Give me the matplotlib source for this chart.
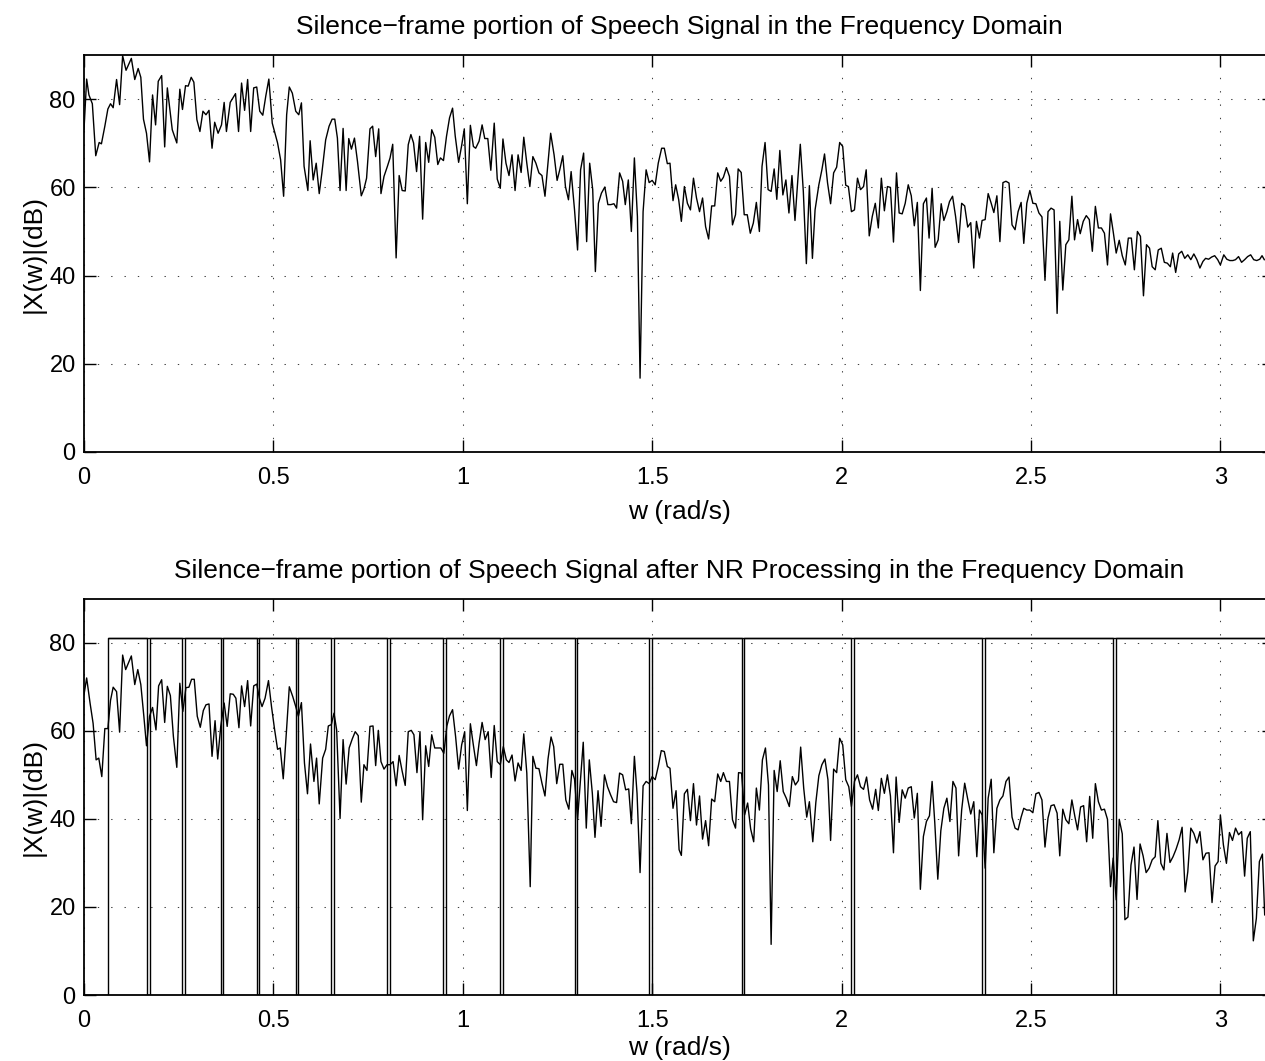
import numpy as np
import matplotlib
matplotlib.use("Agg")
import matplotlib.pyplot as plt

# ---------------- data ----------------
top_x = [0.000, 0.007, 0.013, 0.022, 0.031, 0.040, 0.046, 0.055, 0.063, 0.070, 0.077, 0.086, 0.094, 0.102, 0.111, 0.125, 0.134, 0.143, 0.150, 0.157,
         0.165, 0.173, 0.181, 0.189, 0.196, 0.205, 0.213, 0.220, 0.233, 0.245, 0.253, 0.260, 0.268, 0.275, 0.283, 0.290, 0.298, 0.306, 0.314, 0.322,
         0.330, 0.338, 0.345, 0.354, 0.363, 0.370, 0.376, 0.386, 0.400, 0.408, 0.416, 0.424, 0.432, 0.440, 0.448, 0.456, 0.464, 0.472, 0.480, 0.488,
         0.497, 0.511, 0.519, 0.527, 0.535, 0.542, 0.550, 0.559, 0.567, 0.574, 0.581, 0.591, 0.597, 0.605, 0.613, 0.621, 0.628, 0.638, 0.647, 0.655,
         0.662, 0.669, 0.676, 0.684, 0.692, 0.699, 0.706, 0.714, 0.722, 0.732, 0.739, 0.746, 0.755, 0.762, 0.770, 0.778,
         0.784, 0.792, 0.801, 0.808, 0.815, 0.824, 0.832, 0.840, 0.848, 0.856, 0.863, 0.870, 0.878, 0.886, 0.894, 0.902, 0.910, 0.918, 0.926, 0.934,
         0.941, 0.949, 0.957, 0.965, 0.973, 0.980, 0.989, 0.997, 1.004, 1.012, 1.020, 1.028, 1.034, 1.043, 1.051, 1.058, 1.066, 1.074, 1.083, 1.091,
         1.099, 1.106, 1.114, 1.122, 1.130, 1.138, 1.146, 1.154, 1.161, 1.169, 1.177, 1.185, 1.193, 1.201, 1.209, 1.217, 1.225, 1.232, 1.241, 1.249,
         1.256, 1.264, 1.271, 1.279, 1.286, 1.295, 1.303, 1.311, 1.319, 1.327, 1.335, 1.343, 1.350, 1.358, 1.366, 1.375, 1.383, 1.391, 1.399, 1.406,
         1.414, 1.422, 1.429, 1.437, 1.445, 1.453, 1.461, 1.468, 1.476, 1.484, 1.492, 1.500, 1.508, 1.516, 1.525, 1.532, 1.540, 1.547, 1.555, 1.562, 1.570,
         1.577, 1.585, 1.593, 1.601, 1.609, 1.617, 1.625, 1.633, 1.641, 1.649, 1.657, 1.665, 1.673, 1.681, 1.688, 1.696, 1.704, 1.712, 1.720, 1.727,
         1.735, 1.743, 1.751, 1.759, 1.767, 1.775, 1.783, 1.790, 1.798, 1.806, 1.814, 1.822, 1.829, 1.837, 1.845, 1.853, 1.861, 1.869, 1.877, 1.891,
         1.899, 1.907, 1.915, 1.923, 1.930, 1.940, 1.948, 1.955, 1.963, 1.971, 1.979, 1.987, 1.995, 2.003, 2.011, 2.018, 2.026, 2.034, 2.042, 2.050,
         2.058, 2.065, 2.073, 2.081, 2.089, 2.097, 2.105, 2.113, 2.121, 2.129, 2.137, 2.145, 2.152, 2.160, 2.168, 2.176, 2.184, 2.192, 2.200, 2.208,
         2.216, 2.224, 2.231, 2.239, 2.247, 2.255, 2.263, 2.270, 2.278, 2.285, 2.293, 2.301, 2.309, 2.317, 2.325, 2.333, 2.341, 2.349, 2.356, 2.364,
         2.371, 2.379, 2.387, 2.395, 2.402, 2.410, 2.418, 2.426, 2.434, 2.442, 2.450, 2.458, 2.466, 2.474, 2.481, 2.489, 2.497, 2.505, 2.513, 2.521,
         2.529, 2.537, 2.545, 2.553, 2.561, 2.569, 2.576, 2.584, 2.592, 2.600, 2.608, 2.615, 2.623, 2.630, 2.638, 2.646, 2.654, 2.662, 2.670, 2.678,
         2.686, 2.694, 2.702, 2.710, 2.717, 2.725, 2.733, 2.741, 2.749, 2.757, 2.765, 2.773, 2.781, 2.789, 2.797, 2.805, 2.813, 2.820, 2.828, 2.836,
         2.844, 2.852, 2.860, 2.868, 2.874, 2.882, 2.890, 2.898, 2.906, 2.914, 2.922, 2.930, 2.938, 2.946, 2.954, 2.961, 2.969, 2.977, 2.985, 2.993,
         3.000, 3.009, 3.017, 3.025, 3.033, 3.040, 3.048, 3.056, 3.064, 3.072, 3.080, 3.088, 3.096, 3.104, 3.110, 3.116]
top_db = [73.1, 84.6, 81.0, 79.0, 67.2, 70.2, 69.9, 73.9, 77.8, 79.0, 78.1, 84.5, 78.8, 89.9, 86.6, 89.3, 84.5, 87.0, 85.0, 75.5,
          72.3, 65.8, 81.0, 74.2, 84.1, 85.4, 69.2, 82.6, 73.1, 70.1, 82.3, 77.7, 83.1, 83.0, 85.0, 83.9, 75.4, 72.7, 77.3, 76.5,
          77.5, 68.9, 74.8, 72.3, 74.2, 79.3, 72.7, 79.3, 81.3, 72.7, 83.7, 77.5, 84.5, 72.7, 82.6, 82.8, 77.3, 76.4, 80.8, 84.6,
          74.6, 70.1, 66.3, 58.0, 76.5, 82.8, 81.4, 77.3, 76.5, 79.2, 64.8, 59.3, 70.6, 61.7, 65.5, 58.6, 63.3, 70.8, 73.9, 75.5,
          75.5, 71.2, 59.3, 73.4, 59.3, 71.1, 68.7, 71.2, 65.9, 58.1, 59.6, 62.1, 73.3, 73.9, 67.0, 73.3,
          58.6, 62.5, 64.8, 66.7, 69.8, 44.0, 62.7, 59.3, 59.2, 69.7, 72.0, 70.1, 63.6, 71.6, 52.8, 70.2, 65.7, 73.1, 71.4, 65.2,
          66.7, 66.1, 71.6, 75.8, 78.0, 71.7, 65.7, 69.5, 73.3, 56.3, 74.1, 69.3, 68.9, 70.5, 74.2, 71.1, 71.1, 63.9, 74.6, 61.9,
          59.8, 71.0, 65.5, 62.7, 67.4, 59.3, 67.4, 63.4, 71.4, 65.5, 60.2, 67.0, 65.5, 63.3, 62.7, 58.0, 65.5, 72.3, 67.4, 61.6,
          64.0, 67.2, 60.2, 57.2, 63.6, 54.9, 45.8, 64.0, 67.8, 47.7, 65.5, 59.5, 40.9, 56.4, 58.7, 60.1, 56.1, 56.1, 56.3, 55.3,
          63.3, 61.4, 56.1, 61.7, 50.0, 66.7, 53.4, 16.7, 54.5, 64.0, 61.1, 61.6, 60.6, 65.5, 68.9, 68.9, 65.4, 65.5, 57.0, 60.6, 57.2,
          52.3, 60.2, 56.4, 54.9, 62.1, 57.6, 54.5, 57.6, 51.1, 48.3, 55.8, 55.8, 63.3, 61.4, 62.3, 64.5, 62.5, 51.5, 53.8, 64.2,
          63.4, 53.8, 53.8, 49.6, 51.9, 56.6, 50.0, 64.8, 70.2, 59.5, 59.1, 64.2, 57.3, 68.4, 58.3, 61.7, 54.2, 62.7, 52.5, 69.8,
          59.1, 42.7, 60.4, 43.9, 54.9, 60.6, 64.0, 67.6, 61.0, 56.3, 63.3, 64.6, 70.2, 69.3, 60.5, 60.2, 54.5, 54.9, 62.1, 59.5,
          60.2, 64.0, 49.0, 53.4, 56.4, 50.8, 62.1, 54.7, 60.2, 60.0, 47.6, 63.3, 54.2, 54.0, 56.4, 60.6, 58.1, 51.3, 56.6, 36.6,
          56.3, 57.6, 48.5, 59.8, 46.4, 48.1, 56.3, 52.5, 54.5, 56.8, 58.0, 53.4, 47.5, 56.4, 55.8, 51.0, 52.0, 41.7, 52.3, 48.5,
          52.5, 52.7, 58.6, 56.4, 54.3, 58.1, 47.7, 61.1, 61.4, 61.0, 51.5, 50.4, 54.5, 56.6, 47.3, 56.4, 59.3, 56.4, 56.3, 54.2,
          53.3, 38.9, 54.5, 55.3, 54.9, 31.4, 52.3, 36.7, 47.0, 48.1, 58.0, 48.1, 52.7, 49.5, 52.3, 53.6, 52.7, 45.5, 55.7, 50.8,
          50.8, 49.6, 42.4, 54.0, 50.0, 45.1, 48.0, 44.5, 42.4, 48.5, 48.5, 41.3, 50.0, 48.9, 35.4, 47.0, 46.2, 42.0, 41.3, 45.8,
          46.2, 43.0, 42.8, 42.0, 45.1, 40.7, 44.9, 45.5, 43.9, 44.7, 43.6, 44.9, 43.6, 41.7, 43.2, 43.9, 43.7, 44.2, 44.5, 43.6,
          42.4, 44.7, 43.7, 43.4, 43.4, 43.6, 44.3, 43.0, 43.6, 44.3, 44.7, 43.6, 43.4, 43.7, 44.5, 43.6]

bot_x = [0.000, 0.007, 0.016, 0.024, 0.032, 0.039, 0.047, 0.055, 0.063, 0.070, 0.077, 0.086, 0.094, 0.102, 0.110, 0.125, 0.134, 0.142, 0.150, 0.158,
         0.165, 0.173, 0.181, 0.190, 0.197, 0.205, 0.213, 0.220, 0.228, 0.236, 0.245, 0.253, 0.261, 0.269, 0.277, 0.284, 0.291, 0.299, 0.307, 0.315,
         0.322, 0.330, 0.338, 0.346, 0.353, 0.361, 0.370, 0.378, 0.386, 0.394, 0.401, 0.409, 0.416, 0.424, 0.432, 0.440, 0.448, 0.456, 0.463, 0.470,
         0.478, 0.487, 0.495, 0.503, 0.511, 0.518, 0.526, 0.535, 0.542, 0.551, 0.559, 0.566, 0.574, 0.582, 0.590, 0.598, 0.607, 0.614, 0.621, 0.630,
         0.638, 0.645, 0.653, 0.660, 0.667, 0.676, 0.684, 0.692, 0.700, 0.708, 0.716, 0.724, 0.732, 0.739, 0.747, 0.755, 0.763, 0.770, 0.777,
         0.784, 0.792, 0.800, 0.808, 0.816, 0.824, 0.832, 0.840, 0.848, 0.856, 0.864, 0.871, 0.879, 0.887, 0.894, 0.902, 0.910, 0.918, 0.926, 0.934,
         0.942, 0.950, 0.958, 0.965, 0.973, 0.981, 0.989, 0.997, 1.005, 1.012, 1.020, 1.028, 1.036, 1.043, 1.051, 1.059, 1.067, 1.075, 1.083, 1.091,
         1.099, 1.107, 1.115, 1.122, 1.130, 1.138, 1.146, 1.154, 1.161, 1.169, 1.178, 1.185, 1.193, 1.201, 1.209, 1.217, 1.225, 1.233, 1.240, 1.248,
         1.256, 1.264, 1.272, 1.280, 1.288, 1.295, 1.303, 1.310, 1.318, 1.326, 1.334, 1.342, 1.349, 1.357, 1.365, 1.374, 1.382, 1.390, 1.398, 1.406,
         1.414, 1.422, 1.430, 1.438, 1.445, 1.453, 1.460, 1.468, 1.476, 1.484, 1.492, 1.500, 1.508, 1.516, 1.524, 1.532, 1.540, 1.547, 1.555, 1.563, 1.571,
         1.577, 1.585, 1.593, 1.601, 1.609, 1.617, 1.625, 1.633, 1.641, 1.649, 1.657, 1.665, 1.673, 1.681, 1.688, 1.696, 1.704, 1.712, 1.720, 1.728,
         1.736, 1.744, 1.752, 1.760, 1.768, 1.775, 1.783, 1.791, 1.799, 1.807, 1.814, 1.822, 1.830, 1.838, 1.846, 1.854, 1.862, 1.870, 1.878, 1.886,
         1.892, 1.900, 1.908, 1.915, 1.924, 1.932, 1.940, 1.948, 1.956, 1.964, 1.971, 1.979, 1.987, 1.995, 2.003, 2.011, 2.019, 2.026, 2.034, 2.042,
         2.050, 2.058, 2.066, 2.074, 2.082, 2.090, 2.097, 2.105, 2.113, 2.121, 2.129, 2.137, 2.144, 2.152, 2.160, 2.168, 2.176, 2.184, 2.192, 2.200,
         2.208, 2.216, 2.224, 2.232, 2.239, 2.246, 2.254, 2.262, 2.270, 2.278, 2.286, 2.294, 2.302, 2.309, 2.317, 2.325, 2.333, 2.341, 2.349, 2.357, 2.364,
         2.371, 2.379, 2.387, 2.395, 2.402, 2.410, 2.418, 2.426, 2.434, 2.442, 2.450, 2.458, 2.466, 2.474, 2.481, 2.489, 2.497, 2.505, 2.513, 2.521,
         2.529, 2.537, 2.545, 2.553, 2.561, 2.569, 2.576, 2.584, 2.592, 2.600, 2.608, 2.616, 2.623, 2.631, 2.639, 2.647, 2.655, 2.663, 2.670, 2.678,
         2.686, 2.694, 2.702, 2.710, 2.717, 2.725, 2.733, 2.741, 2.748, 2.756, 2.764, 2.772, 2.780, 2.788, 2.796, 2.804, 2.812, 2.820, 2.828, 2.835,
         2.843, 2.851, 2.859, 2.867, 2.875, 2.883, 2.891, 2.899, 2.907, 2.914, 2.922, 2.930, 2.938, 2.946, 2.954, 2.962, 2.970, 2.978, 2.986, 2.994,
         3.000, 3.008, 3.016, 3.024, 3.032, 3.040, 3.048, 3.056, 3.064, 3.071, 3.079, 3.087, 3.095, 3.103, 3.111, 3.117]
bot_db = [68.2, 72.0, 66.3, 61.7, 53.4, 53.8, 49.6, 60.5, 60.5, 66.9, 69.9, 68.9, 59.7, 77.2, 73.9, 77.0, 70.5, 73.9, 70.5, 63.3,
          56.6, 63.3, 65.3, 60.2, 70.2, 71.6, 61.9, 70.1, 68.0, 58.7, 51.7, 70.8, 64.4, 69.8, 69.9, 71.7, 71.7, 63.3, 60.8, 64.6,
          65.9, 66.1, 54.2, 62.3, 53.6, 61.0, 66.3, 61.0, 68.4, 68.3, 67.4, 60.7, 70.2, 65.5, 71.4, 61.1, 70.2, 70.6, 67.4, 65.5,
          67.4, 71.4, 65.5, 60.4, 55.8, 56.1, 49.1, 60.6, 70.0, 67.8, 65.5, 63.3, 66.4, 52.7, 45.7, 57.0, 48.5, 53.8, 43.4, 53.8,
          55.8, 61.1, 61.4, 64.0, 60.2, 40.1, 58.0, 47.9, 56.1, 58.1, 59.8, 58.9, 43.8, 52.3, 51.0, 61.0, 61.1, 52.1, 60.1,
          53.0, 51.3, 52.3, 52.3, 53.0, 47.5, 54.4, 50.8, 47.6, 59.8, 60.1, 59.1, 50.5, 59.8, 39.8, 56.6, 51.9, 59.1, 56.1, 56.1,
          56.1, 54.9, 61.1, 63.4, 64.8, 58.7, 51.3, 56.8, 59.8, 41.9, 61.6, 56.7, 52.1, 57.2, 61.9, 58.0, 59.8, 49.4, 61.2, 53.0,
          52.3, 56.4, 53.4, 52.8, 54.5, 48.6, 52.7, 51.0, 59.3, 50.4, 24.6, 54.2, 51.5, 51.4, 48.1, 45.2, 53.6, 58.6, 56.4, 48.0,
          52.4, 52.4, 44.3, 42.2, 51.0, 49.0, 39.9, 48.1, 57.4, 37.9, 53.4, 45.8, 35.8, 46.4, 38.3, 50.0, 47.3, 45.5, 43.9, 43.7,
          50.4, 50.0, 46.6, 46.8, 38.9, 54.2, 45.8, 27.8, 47.5, 48.5, 48.0, 49.6, 48.9, 51.9, 55.5, 55.3, 51.9, 51.5, 42.4, 46.4, 33.0,
          31.7, 45.7, 46.7, 39.6, 48.0, 38.6, 45.2, 35.4, 39.6, 33.9, 44.5, 43.9, 50.2, 48.5, 50.5, 48.5, 48.5, 39.8, 37.9, 50.5,
          50.4, 40.9, 43.6, 37.7, 34.8, 47.0, 42.0, 53.4, 56.1, 47.7, 11.5, 51.0, 46.2, 53.2, 46.2, 44.7, 42.8, 49.6, 47.7, 48.7,
          56.3, 47.0, 40.4, 43.9, 34.8, 43.7, 49.8, 52.3, 53.6, 48.9, 35.1, 51.3, 50.5, 58.3, 56.8, 48.9, 47.3, 42.8, 48.5, 50.0,
          47.3, 46.7, 49.5, 44.3, 42.2, 46.7, 41.9, 49.2, 45.8, 50.0, 45.2, 32.3, 49.5, 39.2, 46.6, 44.7, 47.0, 47.3, 40.2, 45.8,
          24.0, 36.0, 39.4, 40.7, 48.5, 39.2, 26.3, 37.3, 42.4, 44.7, 39.4, 48.5, 47.0, 31.6, 42.0, 48.1, 44.5, 41.1, 43.9, 31.4, 42.0,
          40.9, 28.8, 44.7, 49.0, 32.3, 42.4, 44.3, 45.2, 48.5, 49.5, 40.4, 37.9, 37.5, 40.4, 42.4, 42.0, 42.0, 41.4, 45.7, 46.0,
          44.3, 33.6, 40.2, 43.0, 43.2, 41.3, 31.6, 42.2, 39.8, 38.9, 44.3, 40.5, 37.5, 42.7, 43.0, 34.8, 45.1, 35.6, 48.0, 43.9,
          42.0, 42.2, 39.9, 24.6, 31.1, 21.6, 39.9, 36.6, 17.1, 17.7, 29.5, 33.6, 21.7, 34.3, 31.6, 27.8, 28.8, 30.7, 31.4, 39.6,
          29.9, 28.4, 36.7, 30.1, 31.4, 33.1, 35.2, 38.1, 23.4, 28.0, 37.9, 36.7, 34.5, 37.1, 30.7, 32.2, 32.3, 21.0, 29.3, 30.3,
          40.9, 34.1, 29.9, 36.9, 35.1, 37.9, 36.4, 37.1, 27.0, 35.6, 37.1, 12.3, 17.4, 30.3, 32.0, 18.2]

# speech/silence gate drawn in the lower panel (level 81 dB, short drops to 0)
gate_level = 81.0
gate_rise = 0.063
gate_drop_start = [0.165, 0.259, 0.361, 0.456, 0.559, 0.652, 0.799, 0.949, 1.099, 1.295, 1.491, 1.736, 2.025, 2.371, 2.716]
gate_drop_end = [0.173, 0.266, 0.368, 0.463, 0.566, 0.659, 0.807, 0.956, 1.106, 1.302, 1.499, 1.743, 2.032, 2.378, 2.724]

xticks = [0, 0.5, 1, 1.5, 2, 2.5, 3]
xtick_labels = ["0", "0.5", "1", "1.5", "2", "2.5", "3"]
yticks = [0, 20, 40, 60, 80]
ytick_labels = ["0", "20", "40", "60", "80"]

title_top = "Silence\u2212frame portion of Speech Signal in the Frequency Domain"
title_bot = "Silence\u2212frame portion of Speech Signal after NR Processing in the Frequency Domain"
xlabel = "w (rad/s)"
ylabel = "|X(w)|(dB)"

# ---------------- figure ----------------
plt.rcParams['font.family'] = ['Liberation Sans', 'DejaVu Sans']
FS_TICK = 17
FS_LAB = 19
W, H = 1265, 1061
fig = plt.figure(figsize=(W / 100, H / 100), dpi=100)

def px_axes(left, top, right, bottom):
    return [left / W, 1 - bottom / H, (right - left) / W, (bottom - top) / H]

ax1 = fig.add_axes(px_axes(84, 55.3, 1274, 451.7))
ax2 = fig.add_axes(px_axes(84, 598.7, 1274, 995))

# gate signal: vertical edges plus a continuous top level
gx = [0.0, gate_rise, gate_rise]
gy = [0.0, 0.0, gate_level]
for s, e in zip(gate_drop_start, gate_drop_end):
    gx += [s, s, e, e]
    gy += [gate_level, 0.0, 0.0, gate_level]
gx += [np.pi]
gy += [gate_level]

ax1.plot(top_x, top_db, color='black', lw=1.0)
ax2.plot(gx, gy, color='black', lw=1.0)
ax2.hlines(gate_level, gate_rise, np.pi, color='black', lw=1.0)
ax2.plot(bot_x, bot_db, color='black', lw=1.0)

for ax, title, xpad in ((ax1, title_top, 8), (ax2, title_bot, 3)):
    ax.set_xlim(0, np.pi)
    ax.set_ylim(0, 90)
    ax.set_xticks(xticks)
    ax.set_xticklabels(xtick_labels)
    ax.set_yticks(yticks)
    ax.set_yticklabels(ytick_labels)
    ax.tick_params(direction='in', length=8.6, width=1.0, top=True, right=True,
                   labelsize=FS_TICK, colors='black')
    ax.tick_params(axis='x', pad=11)
    ax.tick_params(axis='y', pad=6)
    ax.grid(True, color='#404040', lw=0.75, linestyle=(0, (1.3, 11.5)))
    for sp in ax.spines.values():
        sp.set_linewidth(1.3)
    ax.set_title(title, fontsize=FS_LAB, pad=15)
    ax.set_xlabel(xlabel, fontsize=FS_LAB, labelpad=xpad)
    ax.set_ylabel(ylabel, fontsize=FS_LAB, labelpad=3)

fig.savefig("out.png", dpi=100)
